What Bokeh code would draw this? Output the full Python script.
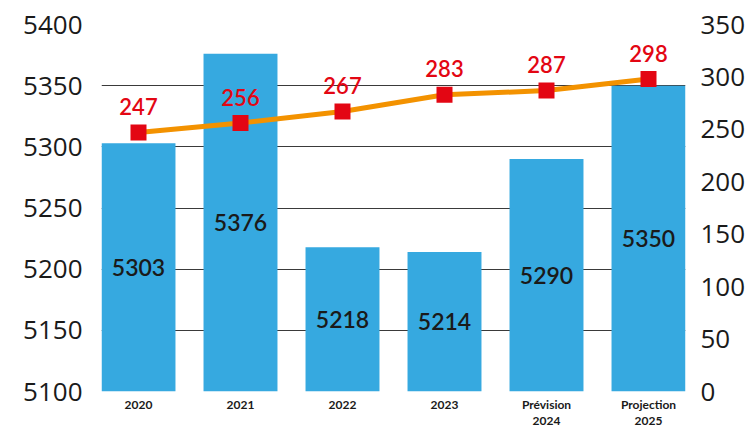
from bokeh.plotting import figure
from bokeh.models import Range1d, LinearAxis, FixedTicker
from bokeh.embed import file_html
from bokeh.resources import INLINE
from bokeh.core.properties import value

categories = ["2020", "2021", "2022", "2023", "Prévision\n2024", "Projection\n2025"]
bar_values = [5303, 5376, 5218, 5214, 5290, 5350]
line_values = [247, 256, 267, 283, 287, 298]
left_ticks = [5100, 5150, 5200, 5250, 5300, 5350, 5400]
right_ticks = [0, 50, 100, 150, 200, 250, 300, 350]

BAR = "#36a9e0"
ORANGE = "#f39200"
RED = "#e30613"
TXT = "#1a1a1a"
MEDIUM_FONT = "'Lato Semibold', 'Lato Medium', Lato"

x = list(range(len(categories)))
pad = 0.3627

p = figure(width=754, height=431, output_backend="svg", toolbar_location=None,
           x_range=Range1d(-pad, len(categories) - 1 + pad),
           y_range=Range1d(left_ticks[0], left_ticks[-1]),
           min_border_left=101, min_border_right=69,
           min_border_top=24, min_border_bottom=38)
p.outline_line_color = None
p.background_fill_color = "white"
p.border_fill_color = "white"
p.extra_y_ranges = {"right": Range1d(right_ticks[0], right_ticks[-1])}

# grid
p.xgrid.visible = False
p.ygrid.ticker = FixedTicker(ticks=left_ticks)
p.ygrid.grid_line_color = "#3a3a3a"
p.ygrid.grid_line_width = 1

# left axis
ly = p.yaxis[0]
ly.ticker = FixedTicker(ticks=left_ticks)
ly.axis_line_color = None
ly.major_tick_line_color = None
ly.minor_tick_line_color = None
ly.major_tick_out = 0
ly.major_label_standoff = 19
ly.major_label_text_font = "Open Sans"
ly.major_label_text_font_size = "26px"
ly.major_label_text_color = TXT

# right axis
ry = LinearAxis(y_range_name="right", ticker=FixedTicker(ticks=right_ticks))
ry.axis_line_color = None
ry.major_tick_line_color = None
ry.minor_tick_line_color = None
ry.major_tick_out = 0
ry.major_label_standoff = 15
ry.major_label_text_font = "Open Sans"
ry.major_label_text_font_size = "26px"
ry.major_label_text_color = TXT
p.add_layout(ry, "right")

# x axis
xa = p.xaxis[0]
xa.ticker = FixedTicker(ticks=x)
xa.major_label_overrides = {i: c for i, c in zip(x, categories)}
xa.axis_line_color = None
xa.major_tick_line_color = None
xa.minor_tick_line_color = None
xa.major_tick_out = 0
xa.major_label_standoff = 5
xa.major_label_text_line_height = 1.1
xa.major_label_text_font = "Lato"
xa.major_label_text_font_style = "bold"
xa.major_label_text_font_size = "12px"
xa.major_label_text_color = TXT

# bars
base = left_ticks[0]
p.vbar(x=x, top=bar_values, bottom=base, width=0.725, fill_color=BAR, line_color=None)
p.text(x=x, y=[(base + v) / 2 for v in bar_values], text=[str(v) for v in bar_values],
       text_align="center", text_baseline="middle",
       text_font=value(MEDIUM_FONT), text_font_size="23px", text_color=TXT)

# line
p.line(x=x, y=line_values, y_range_name="right", line_color=ORANGE, line_width=5)
p.scatter(x=x, y=line_values, y_range_name="right", marker="square", size=16,
          fill_color=RED, line_color=None)
p.text(x=x, y=line_values, y_range_name="right", text=[str(v) for v in line_values],
       y_offset=-26, text_align="center", text_baseline="middle",
       text_font=value(MEDIUM_FONT), text_font_size="22px", text_color=RED)

open("out.html", "w").write(file_html(p, INLINE))
